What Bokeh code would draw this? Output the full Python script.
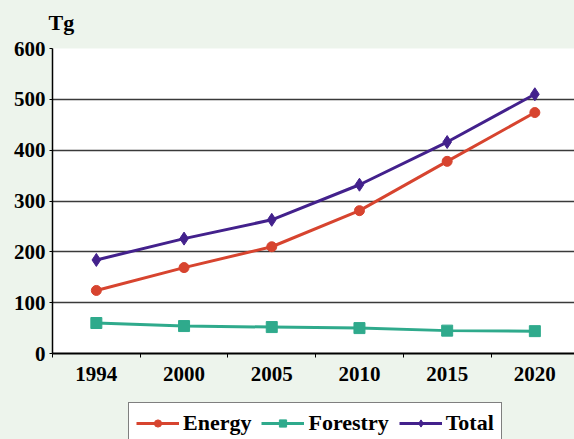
from bokeh.plotting import figure
from bokeh.layouts import column
from bokeh.models import FixedTicker, Legend, LegendItem, Range1d, Label
from bokeh.embed import file_html
from bokeh.resources import INLINE

years = ["1994", "2000", "2005", "2010", "2015", "2020"]
energy = [124, 169, 210, 281, 378, 474]
forestry = [60, 54, 52, 50, 45, 44]
total = [184, 226, 263, 332, 416, 510]
y_ticks = [0, 100, 200, 300, 400, 500, 600]

BG = "#EDF4EC"
FONT = "Liberation Serif"
C_EN = "#D7442F"
C_FO = "#2FAA8C"
C_TO = "#43218C"

W = 574
H_TOP = 38
H_MAIN = 357
H_LEG = 44

xs = list(range(len(years)))

def strip(h):
    f = figure(width=W, height=h, output_backend="svg", toolbar_location=None,
               x_range=Range1d(1000, 1001), y_range=Range1d(5000, 5001),
               x_axis_location=None, y_axis_location=None,
               min_border_left=0, min_border_right=0, min_border_top=0,
               min_border_bottom=0)
    f.background_fill_color = BG
    f.border_fill_color = BG
    f.outline_line_color = None
    f.xgrid.grid_line_color = None
    f.ygrid.grid_line_color = None
    return f

# unit label strip
t = strip(H_TOP)
t.frame_align = False
t.add_layout(Label(x=48, y=16, x_units="screen", y_units="screen", text="Tg",
                   text_font=FONT, text_font_style="bold", text_font_size="22px",
                   text_color="black", text_baseline="middle", text_align="left"))

p = figure(width=W, height=H_MAIN, output_backend="svg", toolbar_location=None,
           x_range=Range1d(-0.5, 5.452), y_range=Range1d(0, 600),
           min_border_left=52, min_border_right=0, min_border_top=10,
           min_border_bottom=42)
p.background_fill_color = "white"
p.border_fill_color = BG
p.outline_line_color = None

def draw(fig):
    a = fig.line(xs, energy, line_color=C_EN, line_width=3)
    am = fig.scatter(xs, energy, marker="circle", size=10, fill_color=C_EN, line_color=C_EN)
    b = fig.line(xs, forestry, line_color=C_FO, line_width=3)
    bm = fig.scatter(xs, forestry, marker="square", size=11, fill_color=C_FO, line_color=C_FO)
    c = fig.line(xs, total, line_color=C_TO, line_width=3)
    cm = fig.scatter(xs, total, marker="diamond", size=13, fill_color=C_TO, line_color=C_TO)
    return (a, am), (b, bm), (c, cm)

draw(p)

# x axis
p.xaxis.ticker = FixedTicker(ticks=xs, minor_ticks=[i - 0.5 for i in range(len(years) + 1)])
p.xaxis.major_label_overrides = {i: y for i, y in enumerate(years)}
p.xaxis.major_tick_out = 0
p.xaxis.major_tick_in = 0
p.xaxis.minor_tick_out = 4
p.xaxis.minor_tick_in = 0
p.xaxis.minor_tick_line_color = "black"
p.xaxis.axis_line_color = "black"
p.xaxis.axis_line_width = 2
p.xaxis.major_label_standoff = 9

# y axis
p.yaxis.ticker = FixedTicker(ticks=y_ticks)
p.yaxis.major_tick_out = 3
p.yaxis.major_tick_in = 0
p.yaxis.minor_tick_line_color = None
p.yaxis.axis_line_color = "black"
p.yaxis.axis_line_width = 1.5
p.yaxis.major_tick_line_color = "black"
p.yaxis.major_label_standoff = 4

for ax in (p.xaxis, p.yaxis):
    ax.major_label_text_font = FONT
    ax.major_label_text_font_style = "bold"
    ax.major_label_text_font_size = "21px"
    ax.major_label_text_color = "black"

p.xgrid.grid_line_color = None
p.ygrid.ticker = FixedTicker(ticks=[100, 200, 300, 400, 500, 600])
p.ygrid.grid_line_color = "#3a3a3a"
p.ygrid.grid_line_width = 1.3

# legend strip (series drawn out of view; only their legend glyphs show)
q = strip(H_LEG)
re, rf, rt = draw(q)

legend = Legend(items=[
    LegendItem(label="Energy", renderers=list(re)),
    LegendItem(label="Forestry", renderers=list(rf)),
    LegendItem(label="Total", renderers=list(rt)),
], orientation="horizontal", location=(76, -5))
legend.margin = 0
legend.padding = 7
legend.spacing = 10
legend.glyph_width = 43
legend.glyph_height = 18
legend.label_height = 18
legend.label_standoff = 4
legend.label_text_font = FONT
legend.label_text_font_style = "bold"
legend.label_text_font_size = "22px"
legend.label_text_color = "black"
legend.border_line_color = "black"
legend.border_line_width = 1.5
legend.background_fill_color = "white"
legend.background_fill_alpha = 1.0
q.add_layout(legend, "center")

layout = column(t, p, q, spacing=0, styles={"background-color": BG})
open("out.html", "w").write(file_html(layout, INLINE))
